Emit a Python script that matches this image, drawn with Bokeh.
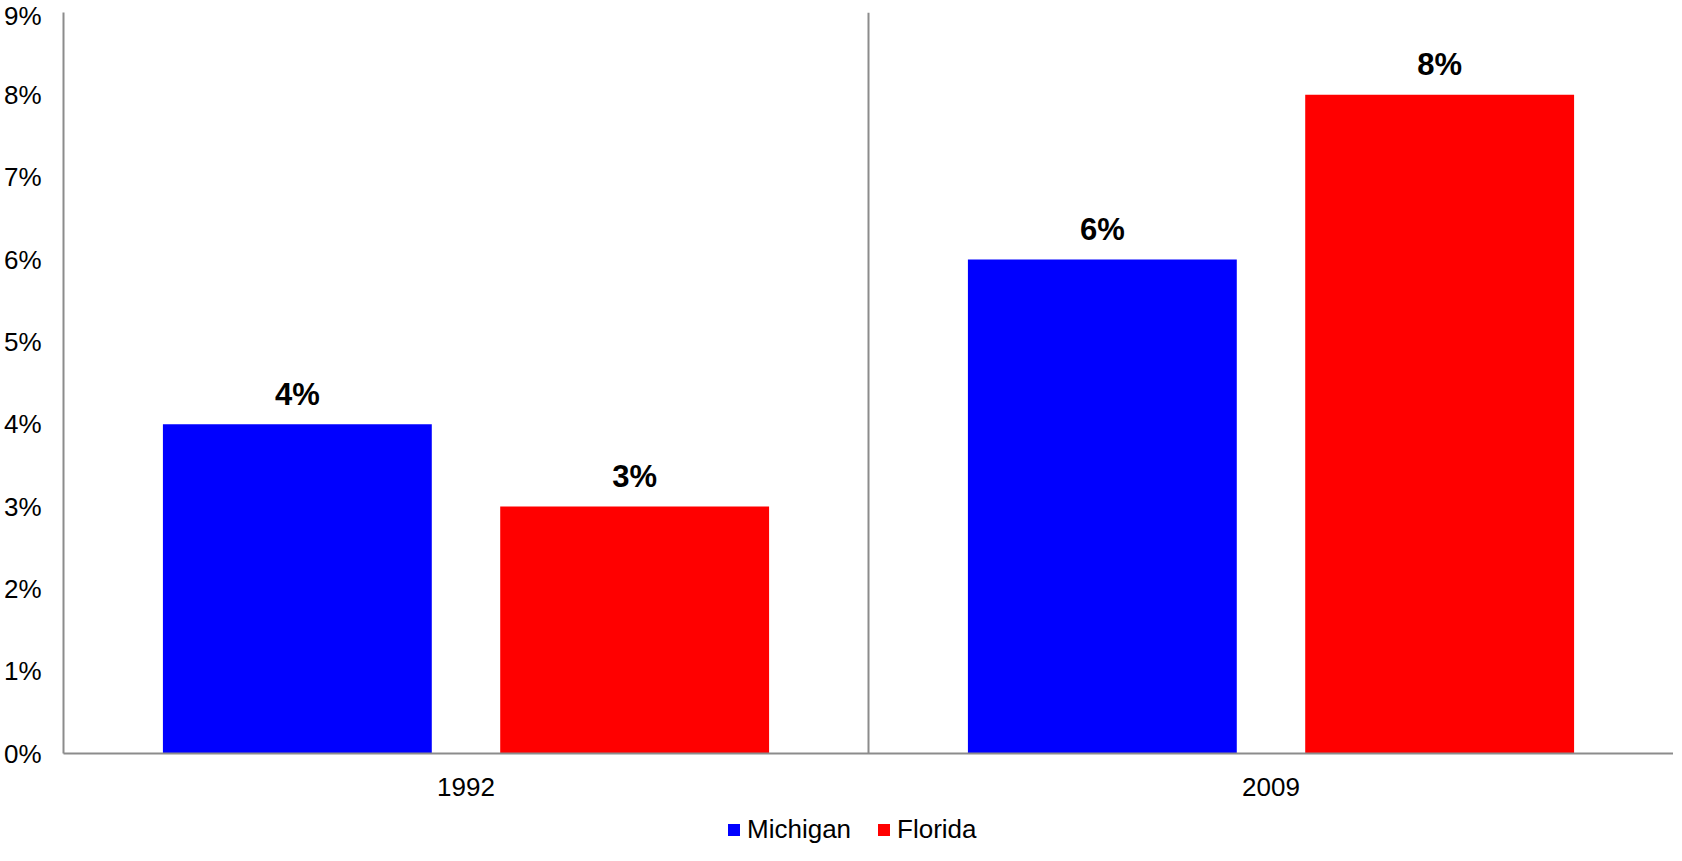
from bokeh.plotting import figure
from bokeh.layouts import column
from bokeh.models import (FactorRange, Range1d, Span, Legend, LegendItem,
                          NumeralTickFormatter, FixedTicker, ColumnDataSource)
from bokeh.transform import dodge
from bokeh.core.properties import value
from bokeh.embed import file_html
from bokeh.resources import INLINE

years = ["1992", "2009"]
series_names = ["Michigan", "Florida"]
series_colors = ["#0000FF", "#FF0000"]
michigan = [0.04, 0.06]
florida = [0.03, 0.08]
michigan_labels = ["4%", "6%"]
florida_labels = ["3%", "8%"]
y_ticks = [0.0, 0.01, 0.02, 0.03, 0.04, 0.05, 0.06, 0.07, 0.08, 0.09]

FONT = value("Liberation Sans")

src = ColumnDataSource(dict(years=years, michigan=michigan, florida=florida,
                            mlab=michigan_labels, flab=florida_labels))

p = figure(x_range=FactorRange(factors=years, range_padding=0),
           y_range=Range1d(0, 0.09),
           frame_width=1610, frame_height=741,
           output_backend="svg", toolbar_location=None,
           min_border_left=56, min_border_right=0, min_border_top=12,
           min_border_bottom=48)

off = 0.2095
w = 0.334
r1 = p.vbar(x=dodge('years', -off, range=p.x_range), top='michigan', width=w,
            source=src, fill_color=series_colors[0], line_color=None)
r2 = p.vbar(x=dodge('years', off, range=p.x_range), top='florida', width=w,
            source=src, fill_color=series_colors[1], line_color=None)

for xo, col in [(-off, 'mlab'), (off, 'flab')]:
    ycol = 'michigan' if col == 'mlab' else 'florida'
    p.text(x=dodge('years', xo, range=p.x_range), y=ycol, text=col, source=src,
           text_font=FONT, text_font_style="bold", text_font_size="31px",
           text_align="center", text_baseline="alphabetic", y_offset=-30,
           text_color="black")

p.add_layout(Span(location=1, dimension="height", line_color="#8c8c8c", line_width=2))

p.xgrid.visible = False
p.ygrid.visible = False
p.outline_line_color = None

for ax in (p.xaxis[0], p.yaxis[0]):
    ax.axis_line_color = "#8c8c8c"
    ax.axis_line_width = 2
    ax.major_tick_line_color = None
    ax.minor_tick_line_color = None
    ax.major_label_text_font = "Liberation Sans"
    ax.major_label_text_font_size = "26px"
    ax.major_label_text_color = "black"

p.yaxis[0].ticker = FixedTicker(ticks=y_ticks)
p.yaxis[0].formatter = NumeralTickFormatter(format="0%")
p.yaxis[0].major_label_standoff = 16
p.xaxis[0].major_label_standoff = 18

# Legend strip below the chart (legend swatches come from off-range proxy glyphs)
lg = figure(x_range=Range1d(0, 1), y_range=Range1d(0, 1),
            frame_width=1666, frame_height=44,
            output_backend="svg", toolbar_location=None,
            min_border_left=0, min_border_right=0, min_border_top=0,
            min_border_bottom=0)
lg.axis.visible = False
lg.grid.visible = False
lg.outline_line_color = None
proxy = ColumnDataSource(dict(x=[-10.0], top=[-10.0]))
lr1 = lg.vbar(x='x', top='top', width=0.1, source=proxy,
              fill_color=series_colors[0], line_color=None)
lr2 = lg.vbar(x='x', top='top', width=0.1, source=proxy,
              fill_color=series_colors[1], line_color=None)
legend = Legend(items=[LegendItem(label=series_names[0], renderers=[lr1]),
                       LegendItem(label=series_names[1], renderers=[lr2])],
                orientation="horizontal", location=(726, 0),
                label_text_font="Liberation Sans", label_text_font_size="26px",
                label_text_color="black",
                glyph_width=15, glyph_height=15, label_standoff=6, spacing=25,
                border_line_color=None, background_fill_alpha=0,
                margin=0, padding=0)
lg.add_layout(legend)

layout = column(p, lg, spacing=0)
open("out.html", "w").write(file_html(layout, INLINE))
